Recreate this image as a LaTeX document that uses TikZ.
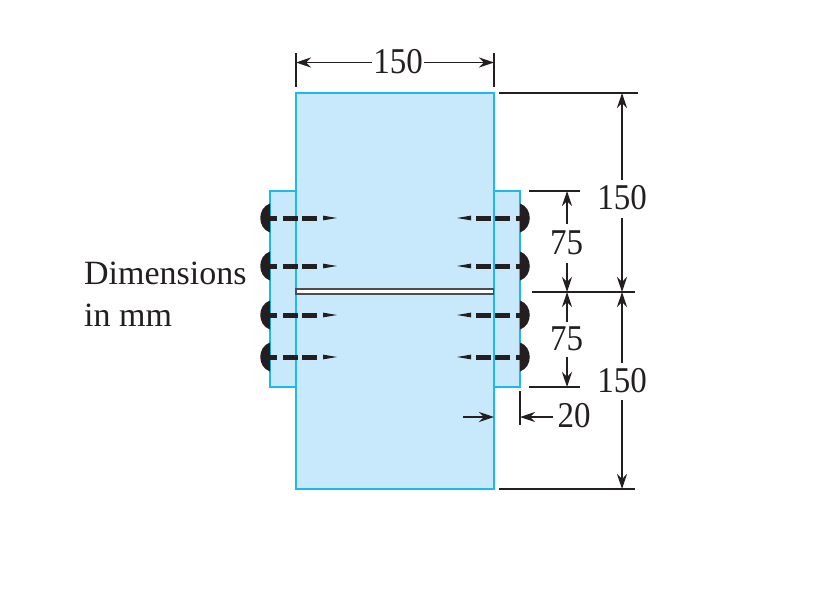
\documentclass[tikz,border=0pt]{standalone}
\usepackage{fontspec}
\setmainfont{Liberation Serif}
\usetikzlibrary{arrows.meta}
\definecolor{plate}{HTML}{C8E9FC}
\definecolor{edge}{HTML}{1FB8EE}
\definecolor{ink}{HTML}{231F20}
\newcommand{\Dig}[1]{\scalebox{1}[1.1]{#1}}
\tikzset{
  platebox/.style={draw=edge,fill=plate,line width=1.4pt},
  dimline/.style={draw=ink,line width=1.4pt},
  dimarrow/.style={dimline,-{Stealth[length=15pt,width=10pt,inset=5pt]}},
  dimlabel/.style={inner sep=0pt,text=ink,font=\fontsize{33}{33}\selectfont},
  notelabel/.style={inner sep=0pt,text=ink,anchor=base west,font=\fontsize{34}{34}\selectfont},
  rivethead/.style={fill=ink,draw=none},
  rivetshank/.style={draw=ink,line width=5pt},
  rivettip/.style={fill=ink,draw=none}
}
\newcommand{\LeftRivet}[1]{%
  \fill[rivethead] (270,#1-14.5) .. controls (257,#1-10) and (257,#1+10) .. (270,#1+14.5) -- cycle;
  \draw[rivetshank] (268,#1) -- (277,#1) (283,#1) -- (298,#1) (302,#1) -- (317,#1);
  \fill[rivettip] (323,#1-2.4) -- (337,#1) -- (323,#1+2.4) -- cycle;
}
\newcommand{\RightRivet}[1]{%
  \fill[rivethead] (520,#1-14.5) .. controls (533,#1-10) and (533,#1+10) .. (520,#1+14.5) -- cycle;
  \draw[rivetshank] (522,#1) -- (516,#1) (510,#1) -- (495,#1) (491,#1) -- (476,#1);
  \fill[rivettip] (471,#1-2.4) -- (457,#1) -- (471,#1+2.4) -- cycle;
}
\begin{document}
\begin{tikzpicture}[x=1pt,y=-1pt]
\useasboundingbox (0,0) rectangle (813,589);
\fill[white] (0,0) rectangle (813,589);
% plates
\draw[platebox] (270,191) rectangle (296,387);
\draw[platebox] (494,191) rectangle (520,387);
\draw[platebox] (296,93) rectangle (494,489);
\draw[draw=ink!80,fill=white,line width=1.5pt] (296,289) rectangle (493.5,294);
% rivets
\foreach \yy in {218,266,315,357}{\LeftRivet{\yy}\RightRivet{\yy}}
% top dimension
\node[dimlabel] (top) at (398,61.5) {\Dig{150}};
\coordinate (tl) at (296,62.5);
\coordinate (tr) at (494,62.5);
\draw[dimline] (296,53) -- (296,87);
\draw[dimline] (494,53) -- (494,87);
\draw[dimarrow] (top.west |- tl) ++(-1,0) -- (tl);
\draw[dimarrow] (top.east |- tr) ++(1,0) -- (tr);
% horizontal extension lines
\draw[dimline] (499,93) coordinate (e1) -- (638,93) coordinate (e1r);
\draw[dimline] (529,191) coordinate (e2) -- (580,191) coordinate (e2r);
\draw[dimline] (532,292) coordinate (e3) -- (635,292) coordinate (e3r);
\draw[dimline] (529,387) coordinate (e4) -- (580,387) coordinate (e4r);
\draw[dimline] (499,489) coordinate (e5) -- (635,489) coordinate (e5r);
% labels
\node[dimlabel] (a) at (622,198) {\Dig{150}};
\node[dimlabel] (b) at (622,381) {\Dig{150}};
\node[dimlabel] (c) at (566.5,243) {\Dig{75}};
\node[dimlabel] (d) at (566.5,339) {\Dig{75}};
\node[dimlabel] (t) at (574,416) {\Dig{20}};
\coordinate (ax) at (622,93);
\coordinate (bx) at (622,292);
\coordinate (cx) at (622,489);
\coordinate (dx) at (567,191);
\coordinate (ex) at (567,292);
\coordinate (fx) at (567,387);
\draw[dimarrow] (622,180) -- (ax);
\draw[dimarrow] (622,218) -- (bx);
\draw[dimarrow] (622,363) -- (bx);
\draw[dimarrow] (622,400) -- (cx);
\draw[dimarrow] (567,224) -- (dx);
\draw[dimarrow] (567,263) -- (ex);
\draw[dimarrow] (567,322) -- (ex);
\draw[dimarrow] (567,357) -- (fx);
% 20 dimension
\coordinate (p) at (520,417);
\coordinate (q) at (494,417);
\draw[dimline] (520,391) -- (520,425);
\draw[dimarrow] (553,417) -- (p);
\draw[dimarrow] (463,417) -- (q);
% note
\node[notelabel] (n1) at (84,284) {Dimensions};
\node[notelabel] (n2) at (84,326) {in mm};
\end{tikzpicture}
\end{document}
